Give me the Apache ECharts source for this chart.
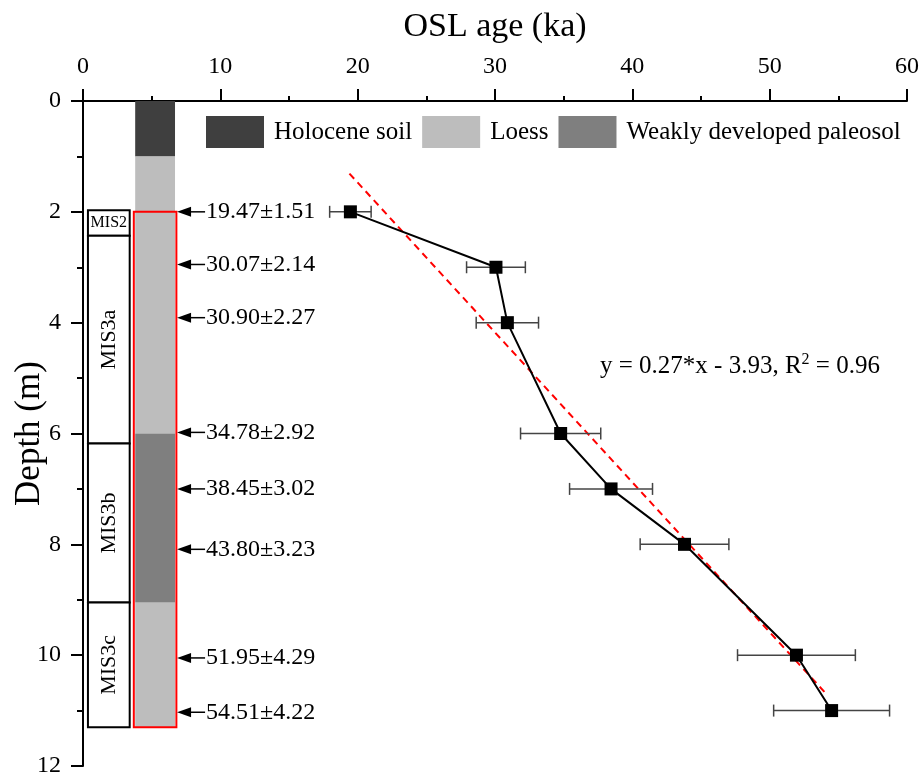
<!DOCTYPE html>
<html>
<head>
<meta charset="utf-8">
<script src="https://cdn.jsdelivr.net/npm/echarts@6/dist/echarts.min.js"></script>
<style>
  html, body { margin: 0; padding: 0; background: #fff; }
  #main { width: 921px; height: 774px; }
</style>
</head>
<body>
<div id="main"></div>
<script>
// OSL ages (ka), their errors, and sample depths (m)
var ages = [19.47, 30.07, 30.90, 34.78, 38.45, 43.80, 51.95, 54.51];
var ageErrors = [1.51, 2.14, 2.27, 2.92, 3.02, 3.23, 4.29, 4.22];
var depths = [2, 3, 4, 6, 7, 8, 10, 11];
// depths where the sample arrows point on the column
var arrowDepths = [2.0, 2.95, 3.91, 5.98, 7.0, 8.09, 10.05, 11.03];

// stratigraphic column
var layerNames = ['Holocene soil', 'Loess', 'Weakly developed paleosol', 'Loess'];
var layerTops = [0, 1, 6, 9.05];
var layerBottoms = [1, 6, 9.05, 11.3];
var sampledRange = [2, 11.3];

// marine isotope stages
var misNames = ['MIS2', 'MIS3a', 'MIS3b', 'MIS3c'];
var misTops = [1.97, 2.43, 6.18, 9.05];
var misBottoms = [2.43, 6.18, 9.05, 11.3];

// linear fit endpoints
var fitLine = [[19.4, 1.31], [54.2, 10.72]];

var xTicks = [0, 10, 20, 30, 40, 50, 60];
var yTicks = [0, 2, 4, 6, 8, 10, 12];

var FONT = '"Liberation Serif", "Times New Roman", serif';
var layerColors = {
    'Holocene soil': '#3f3f3f',
    'Loess': '#bdbdbd',
    'Weakly developed paleosol': '#7f7f7f'
};
var COL_L = 3.8, COL_R = 6.7;   // column sides in age units
var MIS_L = 0.36, MIS_R = 3.4;

var dom = document.getElementById('main');
var myChart = echarts.init(dom);

function layerSeries(name) {
    var data = [];
    for (var i = 0; i < layerNames.length; i++) {
        if (layerNames[i] === name) data.push([layerTops[i], layerBottoms[i]]);
    }
    return {
        name: name,
        type: 'custom',
        itemStyle: { color: layerColors[name] },
        data: data,
        silent: true,
        z: 2,
        renderItem: function (params, api) {
            var p1 = api.coord([COL_L, api.value(0)]);
            var p2 = api.coord([COL_R, api.value(1)]);
            return {
                type: 'rect',
                shape: { x: p1[0], y: p1[1], width: p2[0] - p1[0], height: p2[1] - p1[1] },
                style: { fill: api.visual('color') }
            };
        }
    };
}

var misData = misNames.map(function (n, i) { return [misTops[i], misBottoms[i], n]; });
var arrowData = ages.map(function (a, i) { return [arrowDepths[i], a, ageErrors[i]]; });
var errData = ages.map(function (a, i) { return [a, depths[i], ageErrors[i]]; });
var pointData = ages.map(function (a, i) { return [a, depths[i]]; });

var option = {
    animation: false,
    backgroundColor: '#fff',
    grid: { left: 83, top: 101, right: 14, bottom: 8, containLabel: false, outerBoundsMode: 'none' },
    legend: {
        left: 206,
        top: 116,
        padding: 0,
        itemWidth: 58,
        itemHeight: 32,
        itemGap: 10,
        icon: 'rect',
        data: ['Holocene soil', 'Loess', 'Weakly developed paleosol'],
        textStyle: { fontFamily: FONT, fontSize: 25, color: '#000', padding: [0, 0, 0, 5] },
        selectedMode: false
    },
    xAxis: {
        type: 'value',
        position: 'top',
        min: 0, max: 60, interval: 10,
        name: 'OSL age (ka)',
        nameLocation: 'middle',
        nameGap: 74,
        nameMoveOverlap: false,
        nameTextStyle: { fontFamily: FONT, fontSize: 34, color: '#000', verticalAlign: 'middle' },
        axisLine: { show: true, onZero: false, lineStyle: { color: '#000', width: 2 } },
        axisTick: { show: true, inside: false, length: 12, lineStyle: { color: '#000', width: 2 } },
        minorTick: { show: true, splitNumber: 2, length: 5, lineStyle: { color: '#000', width: 2 } },
        axisLabel: {
            fontFamily: FONT, fontSize: 24, color: '#000', margin: 22,
            formatter: function (v) { return xTicks.indexOf(v) >= 0 ? String(v) : ''; }
        },
        splitLine: { show: false }
    },
    yAxis: {
        type: 'value',
        inverse: true,
        min: 0, max: 12, interval: 2,
        name: 'Depth (m)',
        nameLocation: 'middle',
        nameGap: 53,
        nameMoveOverlap: false,
        nameRotate: 90,
        nameTextStyle: { fontFamily: FONT, fontSize: 35, color: '#000', verticalAlign: 'middle' },
        axisLine: { show: true, onZero: false, lineStyle: { color: '#000', width: 2 } },
        axisTick: { show: true, inside: false, length: 12, lineStyle: { color: '#000', width: 2 } },
        minorTick: { show: true, splitNumber: 2, length: 6, lineStyle: { color: '#000', width: 2 } },
        axisLabel: {
            fontFamily: FONT, fontSize: 24, color: '#000', margin: 22,
            formatter: function (v) { return yTicks.indexOf(v) >= 0 ? String(v) : ''; }
        },
        splitLine: { show: false }
    },
    graphic: [{
        type: 'text',
        left: 600,
        top: 352,
        style: {
            text: '{a|y = 0.27*x - 3.93, R}{s|2}{a| = 0.96}',
            rich: {
                a: { fontFamily: FONT, fontSize: 25, fill: '#000', color: '#000' },
                s: { fontFamily: FONT, fontSize: 16, fill: '#000', color: '#000', padding: [0, 0, 12, 0] }
            }
        }
    }],
    series: [
        layerSeries('Holocene soil'),
        layerSeries('Loess'),
        layerSeries('Weakly developed paleosol'),
        {
            // red frame around the dated part of the section
            type: 'custom',
            silent: true,
            z: 3,
            data: [sampledRange],
            renderItem: function (params, api) {
                var p1 = api.coord([COL_L - 0.1, api.value(0)]);
                var p2 = api.coord([COL_R + 0.1, api.value(1)]);
                return {
                    type: 'rect',
                    shape: { x: p1[0], y: p1[1], width: p2[0] - p1[0], height: p2[1] - p1[1] },
                    style: { fill: 'none', stroke: '#ff0000', lineWidth: 2 }
                };
            }
        },
        {
            // MIS boxes
            type: 'custom',
            silent: true,
            z: 3,
            data: misData,
            renderItem: function (params, api) {
                var p1 = api.coord([MIS_L, api.value(0)]);
                var p2 = api.coord([MIS_R, api.value(1)]);
                var name = misData[params.dataIndex][2];
                var small = name === 'MIS2';
                return {
                    type: 'group',
                    children: [{
                        type: 'rect',
                        shape: { x: p1[0], y: p1[1], width: p2[0] - p1[0], height: p2[1] - p1[1] },
                        style: { fill: '#fff', stroke: '#000', lineWidth: 2 }
                    }, {
                        type: 'text',
                        x: (p1[0] + p2[0]) / 2,
                        y: (p1[1] + p2[1]) / 2,
                        rotation: small ? 0 : Math.PI / 2,
                        style: {
                            text: name,
                            fontFamily: FONT,
                            fontSize: small ? 16 : 22,
                            fill: '#000',
                            align: 'center',
                            verticalAlign: 'middle'
                        }
                    }]
                };
            }
        },
        {
            // arrows and age labels
            type: 'custom',
            silent: true,
            z: 3,
            data: arrowData,
            renderItem: function (params, api) {
                var tip = api.coord([COL_R + 0.15, api.value(0)]);
                var x = tip[0], y = tip[1];
                var txt = api.value(1).toFixed(2) + '\u00b1' + api.value(2).toFixed(2);
                return {
                    type: 'group',
                    children: [{
                        type: 'polygon',
                        shape: { points: [[x, y], [x + 14, y - 5], [x + 14, y + 5]] },
                        style: { fill: '#000' }
                    }, {
                        type: 'line',
                        shape: { x1: x + 12, y1: y, x2: x + 28, y2: y },
                        style: { stroke: '#000', lineWidth: 1.5 }
                    }, {
                        type: 'text',
                        x: x + 29,
                        y: y,
                        style: {
                            text: txt, fontFamily: FONT, fontSize: 24, fill: '#000',
                            align: 'left', verticalAlign: 'middle'
                        }
                    }]
                };
            }
        },
        {
            type: 'line',
            data: fitLine,
            symbol: 'none',
            silent: true,
            z: 4,
            lineStyle: { color: '#ff0000', width: 2, type: [7, 5] }
        },
        {
            // horizontal error bars
            type: 'custom',
            silent: true,
            z: 5,
            data: errData,
            renderItem: function (params, api) {
                var a = api.value(0), d = api.value(1), e = api.value(2);
                var l = api.coord([a - e, d]);
                var r = api.coord([a + e, d]);
                var st = { stroke: '#444', lineWidth: 1.5 };
                return {
                    type: 'group',
                    children: [
                        { type: 'line', shape: { x1: l[0], y1: l[1], x2: r[0], y2: r[1] }, style: st },
                        { type: 'line', shape: { x1: l[0], y1: l[1] - 6, x2: l[0], y2: l[1] + 6 }, style: st },
                        { type: 'line', shape: { x1: r[0], y1: r[1] - 6, x2: r[0], y2: r[1] + 6 }, style: st }
                    ]
                };
            }
        },
        {
            type: 'line',
            data: pointData,
            symbol: 'rect',
            symbolSize: 13,
            silent: true,
            z: 6,
            itemStyle: { color: '#000' },
            lineStyle: { color: '#000', width: 2 }
        }
    ]
};

if (option && typeof option === "object") {
    myChart.setOption(option, true);
}
</script>
</body>
</html>
